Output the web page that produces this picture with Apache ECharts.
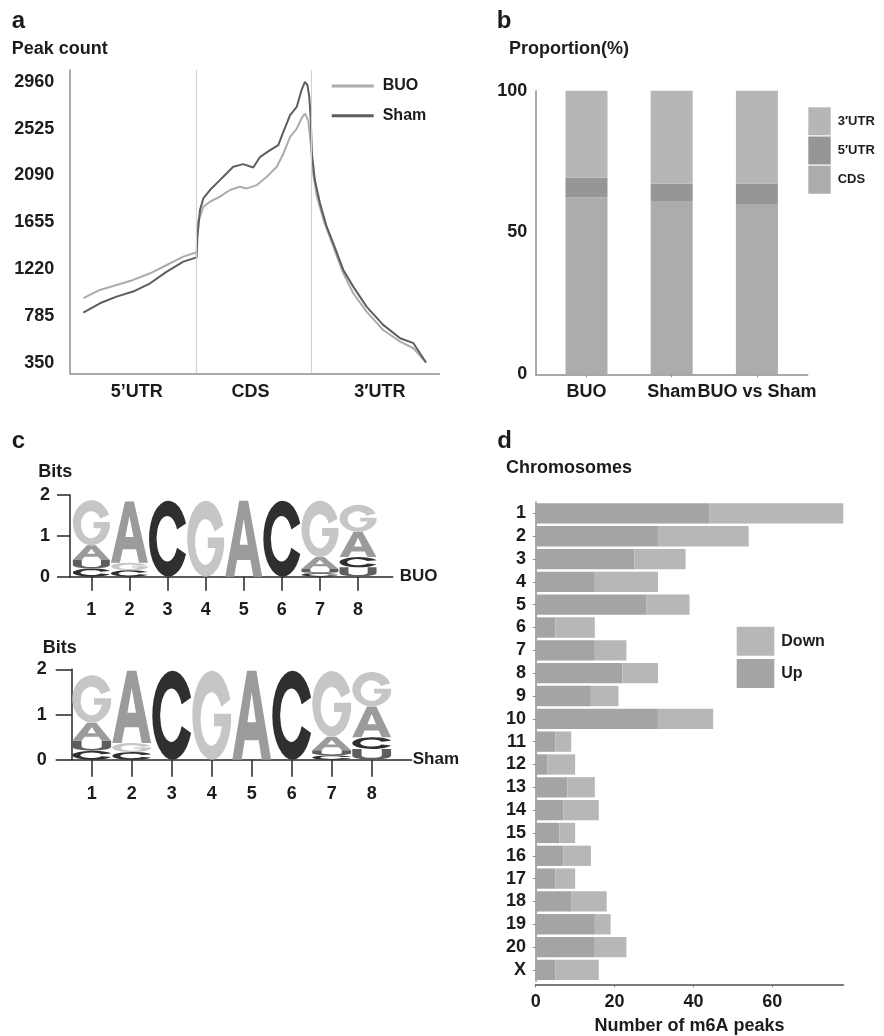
<!DOCTYPE html>
<html><head><meta charset="utf-8">
<script src="https://cdn.jsdelivr.net/npm/echarts@6/dist/echarts.min.js"></script>
<style>html,body{margin:0;padding:0;background:#fff}#c{width:884px;height:1036px}</style>
</head><body><div id="c"></div>
<script>
// ---------- Panel a : metagene peak count ----------
const regionLabels = ['5’UTR', 'CDS', '3′UTR'];
const regionLabelPos = [18.1, 48.9, 83.9];
const regionBounds = [34.3, 65.2];
const peakTicks = [350, 785, 1220, 1655, 2090, 2525, 2960];
const buoPos = [3.6, 8.1, 12.6, 17.1, 21.7, 26.2, 30.7, 34.3, 34.5, 35.2, 36.1, 37.9, 40.6, 43.3, 46.0, 47.9, 50.6, 53.3, 56.0, 57.8, 59.6, 61.4, 62.7, 63.6, 64.5, 65.2, 65.7, 66.8, 68.6, 71.3, 74.0, 76.7, 80.3, 84.8, 89.4, 93.0, 96.4];
const buoPeak = [948, 1025, 1071, 1118, 1180, 1257, 1335, 1375, 1650, 1706, 1799, 1845, 1892, 1954, 1985, 1969, 2000, 2077, 2171, 2294, 2449, 2526, 2620, 2666, 2604, 2387, 2139, 1900, 1680, 1427, 1180, 994, 824, 653, 545, 483, 350];
const shamPos = [3.6, 8.1, 12.6, 17.1, 21.7, 26.2, 30.7, 34.3, 34.5, 35.2, 36.1, 37.9, 39.7, 41.5, 44.2, 46.9, 49.6, 51.5, 54.2, 56.4, 57.8, 59.6, 61.4, 62.7, 63.6, 64.3, 64.8, 65.2, 65.5, 66.3, 67.7, 69.5, 71.3, 74.0, 76.7, 80.3, 84.8, 89.4, 93.0, 96.4];
const shamPeak = [814, 901, 963, 1010, 1087, 1195, 1288, 1328, 1520, 1768, 1876, 1954, 2016, 2077, 2171, 2195, 2164, 2263, 2325, 2372, 2496, 2650, 2728, 2883, 2960, 2929, 2820, 2604, 2294, 2047, 1830, 1613, 1458, 1211, 1056, 870, 700, 576, 530, 350];

// ---------- Panel b : proportion ----------
const groups = ['BUO', 'Sham', 'BUO vs Sham'];
const cdsPct = [62.4, 61.1, 59.8];
const utr5Pct = [6.9, 6.1, 7.5];
const utr3Pct = [30.7, 32.8, 32.7];

// ---------- Panel c : motif logos (bits) ----------
const logoPositions = [1, 2, 3, 4, 5, 6, 7, 8];
const buoA = [0.36, 1.50, 0, 0, 1.86, 0, 0.29, 0.62];
const buoC = [0.20, 0.16, 1.86, 0, 0, 1.86, 0.09, 0.25];
const buoG = [1.10, 0.18, 0, 1.86, 0, 0, 1.38, 0.66];
const buoU = [0.21, 0, 0, 0, 0, 0, 0.10, 0.23];
const shamA = [0.40, 1.60, 0, 0, 1.97, 0, 0.30, 0.68];
const shamC = [0.20, 0.17, 1.97, 0, 0, 1.97, 0.10, 0.26];
const shamG = [1.05, 0.20, 0, 1.97, 0, 0, 1.45, 0.76];
const shamU = [0.22, 0, 0, 0, 0, 0, 0.11, 0.24];

// ---------- Panel d : chromosomes ----------
const chromosomes = ['1','2','3','4','5','6','7','8','9','10','11','12','13','14','15','16','17','18','19','20','X'];
const upPeaks = [44, 31, 25, 15, 28, 5, 15, 22, 14, 31, 5, 3, 8, 7, 6, 7, 5, 9, 15, 15, 5];
const downPeaks = [34, 23, 13, 16, 11, 10, 8, 9, 7, 14, 4, 7, 7, 9, 4, 7, 5, 9, 4, 8, 11];
const peakAxisTicks = [0, 20, 40, 60];

// ---------- helpers ----------
const FONT = '"Liberation Sans", Arial, Helvetica, sans-serif';
const INK = '#1c1c1c';
const GLYPH = {
  A: 'M0,100 L38,0 L62,0 L100,100 L76,100 L68,78 L32,78 L24,100 Z M50,24 L39,58 L61,58 Z',
  C: 'M94,30 A47,50 0 1 0 94,70 L72,62 A26,30 0 1 1 72,38 Z',
  G: 'M94,30 A47,50 0 1 0 96,58 L96,46 L55,46 L55,60 L74,60 A26,30 0 1 1 72,38 Z',
  U: 'M0,0 L24,0 L24,60 A26,22 0 0 0 76,60 L76,0 L100,0 L100,60 A50,40 0 0 1 0,60 Z'
};
const LETTER_COLOR = { A: '#9b9b9b', C: '#2f2f2f', G: '#c6c6c6', U: '#5e5e5e' };
const LETTERS = ['A', 'C', 'G', 'U'];

function logoStacks(a, c, g, u) {
  const out = [];
  const cols = [a, c, g, u];
  logoPositions.forEach((p, i) => {
    const items = LETTERS.map((L, k) => ({ k, h: cols[k][i] })).filter(d => d.h > 0).sort((x, y) => x.h - y.h);
    let base = 0;
    items.forEach(d => { out.push([p, base, d.h, d.k]); base += d.h; });
  });
  return out;
}
function renderLetter(params, api) {
  const p = api.value(0), base = api.value(1), h = api.value(2), k = api.value(3);
  const tl = api.coord([p - 0.485, base + h]);
  const br = api.coord([p + 0.485, base]);
  const L = LETTERS[k];
  return {
    type: 'path',
    shape: { pathData: GLYPH[L], layout: 'cover', x: tl[0], y: tl[1], width: br[0] - tl[0], height: br[1] - tl[1] },
    style: { fill: LETTER_COLOR[L] }
  };
}
const zip = (xs, ys) => xs.map((x, i) => [x, ys[i]]);
const lbl = (extra) => Object.assign({ fontSize: 18, fontWeight: 'bold', color: INK, fontFamily: FONT }, extra || {});
const grayLine = { show: true, lineStyle: { color: '#8c8c8c', width: 1.5 } };
const darkLine = { show: true, lineStyle: { color: '#262626', width: 1.5 } };
const plain = v => String(v);

function title(text, left, top, size) {
  return { text, left, top, padding: 0, textStyle: { fontSize: size, fontWeight: 'bold', color: INK, fontFamily: FONT } };
}

const option = {
  animation: false,
  textStyle: { fontFamily: FONT },
  title: [
    title('a', 11.7, 9, 24), title('Peak count', 11.7, 40, 18),
    title('b', 496.7, 9, 24), title('Proportion(%)', 509, 40, 18),
    title('c', 11.7, 429.6, 24), title('d', 497.3, 429.6, 24),
    title('Chromosomes', 506, 459, 18),
    title('Bits', 38.3, 463.4, 18), title('Bits', 42.7, 638.7, 18)
  ],
  legend: [
    { data: ['BUO', 'Sham'], left: 331.7, top: 78, orient: 'vertical', icon: 'rect', itemWidth: 42, itemHeight: 3, itemGap: 13.7, padding: 0, selectedMode: false,
      textStyle: { fontSize: 16, fontWeight: 'bold', color: INK, lineHeight: 16, padding: [0, 0, 0, 4] } },
    { data: ['3′UTR', '5′UTR', 'CDS'], left: 808.3, top: 107.3, orient: 'vertical', icon: 'rect', itemWidth: 22.4, itemHeight: 28, itemGap: 1.2, padding: 0, selectedMode: false,
      textStyle: { fontSize: 13, fontWeight: 'bold', color: INK, padding: [0, 0, 0, 2] } },
    { data: ['Down', 'Up'], left: 736.7, top: 626.7, orient: 'vertical', icon: 'rect', itemWidth: 37.6, itemHeight: 29, itemGap: 3.3, padding: 0, selectedMode: false,
      textStyle: { fontSize: 16, fontWeight: 'bold', color: INK, padding: [0, 0, 0, 2] } }
  ],
  grid: [
    { left: 70, top: 70, width: 369.3, height: 303.3 },
    { left: 543.9, top: 90.7, width: 255.6, height: 283.6 },
    { left: 70, top: 495, width: 322.7, height: 81.7 },
    { left: 71.7, top: 669.3, width: 340, height: 90.5 },
    { left: 535.7, top: 502, width: 307.6, height: 480 },
    { left: 535.7, top: 90.7, width: 272, height: 283.6 }
  ],
  xAxis: [
    { gridIndex: 0, type: 'value', min: 0, max: 100, axisLine: grayLine, axisTick: { show: false }, splitLine: { show: false },
      axisLabel: lbl({ customValues: regionLabelPos, formatter: v => regionLabels[regionLabelPos.indexOf(v)], margin: 9.4 }) },
    { gridIndex: 1, type: 'category', data: groups, axisLine: { show: false }, splitLine: { show: false },
      axisTick: { show: true, alignWithLabel: true, length: 3, lineStyle: { color: '#8c8c8c' } },
      axisLabel: lbl({ interval: 0, margin: 8.4 }) },
    { gridIndex: 2, type: 'value', min: 0.44, max: 8.91, axisLine: darkLine, splitLine: { show: false },
      axisTick: { show: true, customValues: logoPositions, length: 14, lineStyle: { color: '#262626', width: 1.5 } },
      axisLabel: lbl({ customValues: logoPositions, margin: 24 }),
      name: 'BUO', nameLocation: 'end', nameGap: 7, nameTextStyle: lbl({ fontSize: 17, verticalAlign: 'middle' }) },
    { gridIndex: 3, type: 'value', min: 0.5, max: 9.0, axisLine: darkLine, splitLine: { show: false },
      axisTick: { show: true, customValues: logoPositions, length: 17, lineStyle: { color: '#262626', width: 1.5 } },
      axisLabel: lbl({ customValues: logoPositions, margin: 25 }),
      name: 'Sham', nameLocation: 'end', nameGap: 1, nameTextStyle: lbl({ fontSize: 17, verticalAlign: 'middle' }) },
    { gridIndex: 4, type: 'value', min: 0, max: 78, offset: 3, axisLine: { show: true, lineStyle: { color: '#7a7a7a', width: 2 } }, splitLine: { show: false },
      axisTick: { show: true, customValues: peakAxisTicks, length: 3, lineStyle: { color: '#7a7a7a' } },
      axisLabel: lbl({ customValues: peakAxisTicks, margin: 8.7 }),
      name: 'Number of m6A peaks', nameLocation: 'middle', nameGap: 32.7, nameTextStyle: lbl() },
    { gridIndex: 5, type: 'value', min: 0, max: 1, axisLine: grayLine, axisTick: { show: false }, axisLabel: { show: false }, splitLine: { show: false } }
  ],
  yAxis: [
    { gridIndex: 0, type: 'value', min: 250, max: 3070, axisLine: grayLine, axisTick: { show: false }, splitLine: { show: false },
      axisLabel: lbl({ customValues: peakTicks, formatter: plain, margin: 15.7 }) },
    { gridIndex: 1, type: 'value', min: 0, max: 100, show: false },
    { gridIndex: 2, type: 'value', min: 0, max: 2, interval: 1, axisLine: darkLine, splitLine: { show: false },
      axisTick: { show: true, length: 13, lineStyle: { color: '#262626', width: 1.5 } }, axisLabel: lbl({ margin: 20 }) },
    { gridIndex: 3, type: 'value', min: 0, max: 2, interval: 1, axisLine: darkLine, splitLine: { show: false },
      axisTick: { show: true, length: 16, lineStyle: { color: '#262626', width: 1.5 } }, axisLabel: lbl({ margin: 25 }) },
    { gridIndex: 4, type: 'category', data: chromosomes, inverse: true, axisLine: grayLine,
      axisTick: { show: true, length: 3, alignWithLabel: true, lineStyle: { color: '#8c8c8c' } }, axisLabel: lbl({ margin: 9.7, interval: 0 }) },
    { gridIndex: 5, type: 'value', min: 0, max: 100, interval: 50, axisLine: grayLine, axisTick: { show: false }, splitLine: { show: false },
      axisLabel: lbl({ margin: 8.4 }) }
  ],
  series: [
    { name: 'BUO', type: 'line', xAxisIndex: 0, yAxisIndex: 0, data: zip(buoPos, buoPeak), symbol: 'none', color: '#acacac', lineStyle: { width: 2 },
      markLine: { silent: true, symbol: ['none', 'none'], label: { show: false }, lineStyle: { color: '#d2d2d2', width: 1.2, type: 'solid' },
        data: regionBounds.map(b => ({ xAxis: b })) } },
    { name: 'Sham', type: 'line', xAxisIndex: 0, yAxisIndex: 0, data: zip(shamPos, shamPeak), symbol: 'none', color: '#5e5e5e', lineStyle: { width: 2 } },

    { name: 'CDS', type: 'bar', xAxisIndex: 1, yAxisIndex: 1, stack: 'p', barWidth: 42, data: cdsPct, color: '#acacac' },
    { name: '5′UTR', type: 'bar', xAxisIndex: 1, yAxisIndex: 1, stack: 'p', barWidth: 42, data: utr5Pct, color: '#969696' },
    { name: '3′UTR', type: 'bar', xAxisIndex: 1, yAxisIndex: 1, stack: 'p', barWidth: 42, data: utr3Pct, color: '#b6b6b6' },

    { name: 'logoBUO', type: 'custom', xAxisIndex: 2, yAxisIndex: 2, renderItem: renderLetter, data: logoStacks(buoA, buoC, buoG, buoU),
      dimensions: ['pos', 'base', 'h', 'k'], encode: { x: 0, y: 1 }, clip: false },
    { name: 'logoSham', type: 'custom', xAxisIndex: 3, yAxisIndex: 3, renderItem: renderLetter, data: logoStacks(shamA, shamC, shamG, shamU),
      dimensions: ['pos', 'base', 'h', 'k'], encode: { x: 0, y: 1 }, clip: false },

    { name: 'Up', type: 'bar', xAxisIndex: 4, yAxisIndex: 4, stack: 'c', barCategoryGap: '11%', data: upPeaks, color: '#a4a4a4' },
    { name: 'Down', type: 'bar', xAxisIndex: 4, yAxisIndex: 4, stack: 'c', barCategoryGap: '11%', data: downPeaks, color: '#b7b7b7' }
  ]
};
const chart = echarts.init(document.getElementById('c'), null, { renderer: 'canvas' });
chart.setOption(option);
</script>
</body></html>
